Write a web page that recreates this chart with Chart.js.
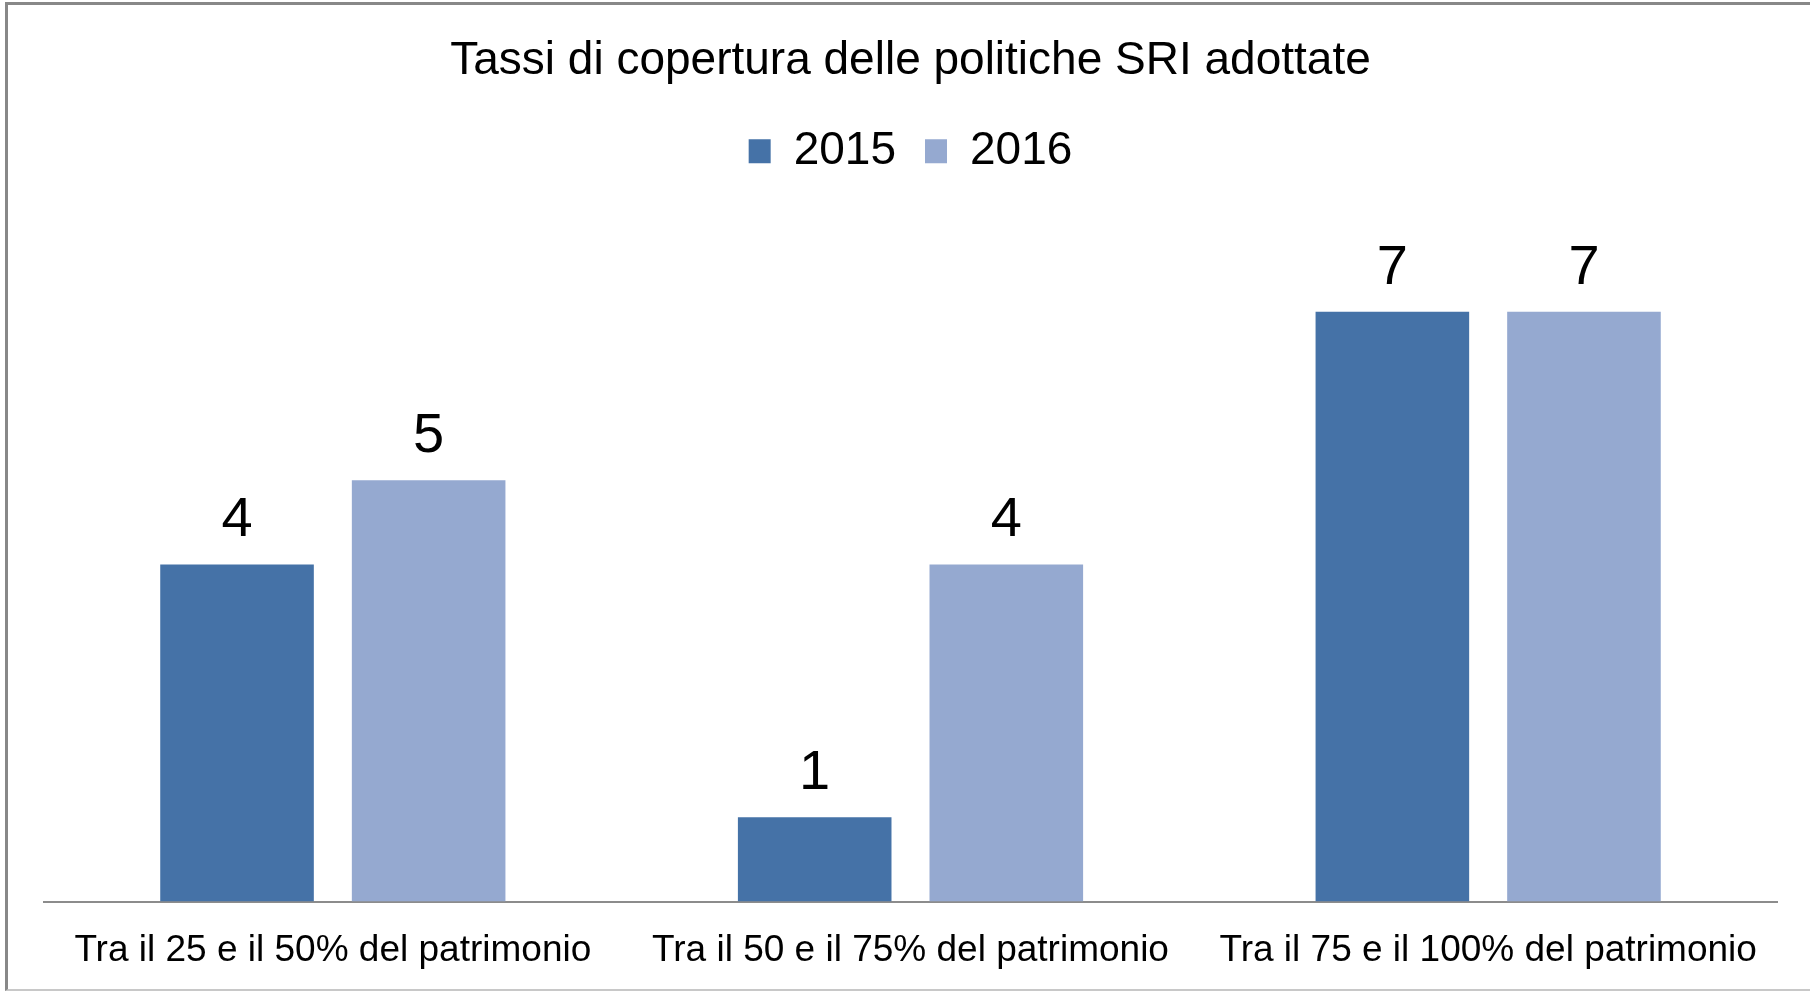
<!DOCTYPE html>
<html>
<head>
<meta charset="utf-8">
<script src="https://cdn.jsdelivr.net/npm/chart.js@4.4.1/dist/chart.umd.min.js"></script>
<style>
  body { margin: 0; background: #fff; overflow: hidden; }
  #wrap { position: relative; width: 1810px; height: 991px; }
  #frame {
    position: absolute; left: 5px; top: 2px; width: 1820px; height: 984px;
    border-top: 3px solid #888; border-left: 3px solid #888; border-bottom: 2px solid #c8c8c8;
    pointer-events: none;
  }
</style>
</head>
<body>
<div id="wrap">
  <canvas id="chart" width="1810" height="991"></canvas>
  <div id="frame"></div>
</div>
<script>
// Data
const categories = [
  "Tra il 25 e il 50% del patrimonio",
  "Tra il 50 e il 75% del patrimonio",
  "Tra il 75 e il 100% del patrimonio"
];
const seriesNames = ["2015", "2016"];
const values2015 = [4, 1, 7];
const values2016 = [5, 4, 7];

const FONT = '"Liberation Sans", Arial, sans-serif';

// Push the plot down below the legend
const legendSpacer = {
  id: 'legendSpacer',
  beforeInit(chart) {
    const origFit = chart.legend.fit;
    chart.legend.fit = function fit() {
      origFit.bind(chart.legend)();
      this.height += 43.2;
    };
  }
};

// Value labels above bars
const valueLabels = {
  id: 'valueLabels',
  afterDatasetsDraw(chart) {
    const ctx = chart.ctx;
    ctx.save();
    ctx.font = '56px ' + FONT;
    ctx.fillStyle = '#000';
    ctx.textAlign = 'center';
    ctx.textBaseline = 'alphabetic';
    chart.data.datasets.forEach((ds, di) => {
      chart.getDatasetMeta(di).data.forEach((bar, i) => {
        ctx.fillText(String(ds.data[i]), bar.x, bar.y - 28);
      });
    });
    ctx.restore();
  }
};

const ctx = document.getElementById('chart').getContext('2d');
new Chart(ctx, {
  type: 'bar',
  data: {
    labels: categories,
    datasets: [
      { label: seriesNames[0], data: values2015, backgroundColor: '#4572A7' },
      { label: seriesNames[1], data: values2016, backgroundColor: '#95A9D0' }
    ]
  },
  options: {
    responsive: false,
    animation: false,
    categoryPercentage: 0.6634,
    barPercentage: 0.8016,
    layout: { padding: { left: 44, right: 33, top: 0, bottom: -9.7 } },
    plugins: {
      title: {
        display: true,
        text: 'Tassi di copertura delle politiche SRI adottate',
        color: '#000',
        font: { family: FONT, size: 46, weight: 'normal' },
        padding: { top: 33.5, bottom: 10.5 }
      },
      legend: {
        display: true,
        position: 'top',
        labels: {
          color: '#000',
          font: { family: FONT, size: 46 },
          boxWidth: 22,
          boxHeight: 24,
          padding: 29
        }
      },
      tooltip: { enabled: false }
    },
    scales: {
      x: {
        grid: { display: false, drawTicks: false },
        border: { display: true, color: '#8c8c8c', width: 2 },
        ticks: { color: '#000', font: { family: FONT, size: 37, lineHeight: 0.6 }, padding: 38.5, maxRotation: 0 }
      },
      y: {
        display: false,
        min: 0,
        max: 8
      }
    }
  },
  plugins: [legendSpacer, valueLabels]
});
</script>
</body>
</html>
